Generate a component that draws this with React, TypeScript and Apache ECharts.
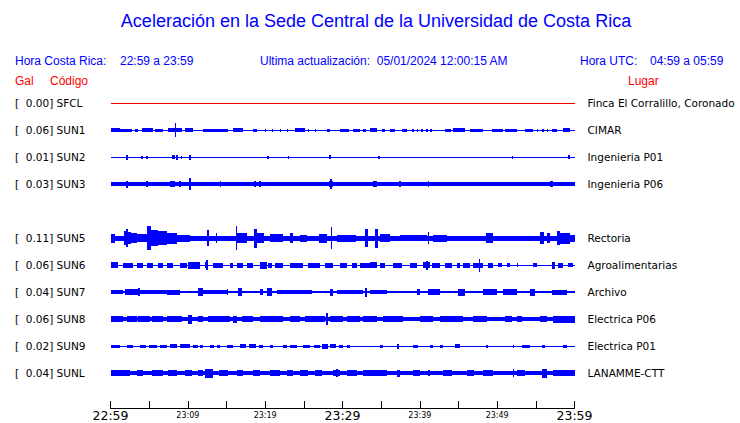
import React, { useEffect, useRef } from "react";
import * as echarts from "echarts";

// ---- data ----
const CODES = ["SFCL", "SUN1", "SUN2", "SUN3", "SUN5", "SUN6", "SUN7", "SUN8", "SUN9", "SUNL"];
const GAL = ["0.00", "0.06", "0.01", "0.03", "0.11", "0.06", "0.04", "0.06", "0.02", "0.04"];
const PLACES = [
  "Finca El Corralillo, Coronado", "CIMAR", "Ingenieria P01", "Ingenieria P06", "Rectoria",
  "Agroalimentarias", "Archivo", "Electrica P06", "Electrica P01", "LANAMME-CTT",
];
// row slot of each station (slot 4 is an empty row)
const ROW_SLOT = [0, 1, 2, 3, 5, 6, 7, 8, 9, 10];
const SLOT_COUNT = 11;

// time ticks: minutes after 22:59
const START_H = 22, START_M = 59;
const TIME_SPAN = 60;
const BIG_LABEL_MINUTES = [0, 30, 60];

// continuous background half-amplitude of each trace (relative units)
const BASE = [0, 0.5, 0.5, 2, 2.5, 0.5, 1.0, 2, 0.5, 2];

// bursts: [startMinute, endMinute, halfAmplitude]
const SFCL_B: number[][] = [];
const SUN1_B = [
  [0, 1.2, 1.7], [1.2, 2.8, 1.5], [3.2, 3.6, 1.5], [4.1, 5.5, 1.7], [5.8, 6.8, 1.5], [7.4, 9.2, 1.7],
  [8.3, 8.4, 6.7], [9.6, 10.7, 1.7], [12.0, 15.2, 1.5], [15.8, 17.1, 1.7], [18.4, 18.9, 1.5],
  [20.0, 20.1, 1.5], [20.9, 21.0, 1.5], [21.9, 22.0, 1.5], [22.8, 22.9, 1.5], [23.9, 25.2, 1.7],
  [25.5, 25.6, 1.5], [26.4, 26.5, 1.5], [28.0, 28.4, 1.5], [29.7, 30.8, 1.5], [31.3, 32.3, 1.5],
  [32.6, 33.0, 1.5], [33.6, 34.5, 1.7], [35.1, 35.5, 1.5], [36.1, 36.8, 1.5], [37.7, 38.3, 1.5],
  [39.0, 39.2, 1.5], [39.6, 39.8, 1.5], [40.2, 40.4, 1.5], [40.8, 41.0, 1.5], [41.3, 41.6, 1.5],
  [43.3, 44.0, 1.5], [44.3, 45.8, 1.7], [46.5, 48.2, 1.5], [49.3, 50.8, 1.5], [51.0, 52.6, 1.5],
  [53.6, 54.6, 1.5], [55.1, 55.3, 1.5], [55.8, 56.0, 1.5], [56.4, 56.6, 1.5], [57.1, 57.7, 1.5],
  [58.5, 59.4, 2],
];
const SUN2_B = [
  [2.0, 2.2, 2.5], [4.0, 4.2, 1.5], [4.6, 4.8, 1.5], [7.9, 8.3, 2], [8.5, 8.7, 2.5], [9.1, 9.3, 1.5],
  [10.2, 10.4, 2.5], [20.3, 20.5, 1.5], [22.9, 23.1, 1.5], [28.3, 28.5, 2], [34.6, 34.8, 1.5],
  [51.9, 52.1, 1.5], [59.2, 59.4, 2],
];
const SUN3_B = [
  [2.0, 2.2, 3.5], [4.6, 4.8, 3], [7.7, 8.3, 3], [8.9, 9.1, 3], [10.2, 10.4, 6], [14.1, 14.3, 2.8],
  [18.6, 18.8, 2.8], [19.2, 19.4, 2.8], [28.3, 28.8, 3], [28.4, 28.6, 5], [33.9, 34.5, 2.6],
  [37.3, 37.5, 2.6], [41.0, 41.2, 2.6], [56.8, 57.2, 2.6],
];
const SUN5_B = [
  [0, 0.6, 4.5], [1.7, 2.0, 7], [2.0, 2.3, 9], [2.3, 2.7, 6], [2.7, 3.4, 5], [3.4, 4.7, 4],
  [4.7, 5.3, 12], [5.3, 6.2, 8], [6.2, 7.3, 7], [7.3, 8.6, 5.5], [8.6, 10.3, 3.5], [12.5, 12.7, 8],
  [13.6, 13.8, 5], [16.2, 16.4, 11.7], [16.4, 17.6, 5], [18.5, 18.9, 9.5], [18.9, 19.8, 5],
  [20.6, 22.3, 4], [23.2, 23.6, 5], [24.5, 25.4, 3.5], [26.9, 28.0, 4.5], [28.5, 28.7, 11],
  [29.3, 31.8, 3.5], [32.9, 33.3, 9], [34.2, 34.6, 9.5], [34.9, 36.1, 4], [37.4, 40.9, 3],
  [41.0, 41.2, 6], [41.7, 43.5, 3.5], [48.6, 49.5, 5], [55.5, 56.0, 6], [56.4, 56.8, 5],
  [57.7, 58.1, 7], [58.1, 59.4, 5.5], [59.4, 60, 3.5],
];
const SUN6_B = [
  [0, 1.0, 3], [1.6, 2.9, 2.5], [3.4, 4.2, 2.5], [4.7, 5.5, 2.5], [6.1, 6.8, 2.5], [7.3, 8.1, 2.5],
  [9.0, 9.9, 2.5], [10.0, 11.6, 3.5], [12.2, 12.6, 3], [12.4, 12.6, 5], [13.3, 14.5, 2.5],
  [15.5, 15.8, 2.5], [16.4, 17.1, 2.5], [17.7, 18.4, 2.5], [19.3, 20.2, 3.5], [20.4, 20.9, 2.5],
  [21.3, 22.3, 2.5], [23.2, 24.9, 2.5], [25.5, 27.1, 2.5], [27.7, 28.8, 2.5], [29.7, 30.6, 2.5],
  [31.2, 31.9, 2.5], [32.3, 33.6, 2.5], [33.6, 34.5, 3], [34.9, 35.5, 2.5], [36.5, 37.7, 2.5],
  [38.7, 39.6, 2.5], [40.4, 41.3, 3], [40.8, 41.0, 4.5], [41.6, 42.6, 2.5], [43.3, 44.2, 2.5],
  [44.8, 45.2, 2.5], [45.6, 46.5, 2.5], [46.9, 48.2, 2.5], [47.6, 47.8, 6.5], [48.8, 49.5, 2.5],
  [50.1, 50.6, 2], [51.3, 51.6, 2], [52.5, 52.7, 2], [54.6, 55.1, 2], [57.1, 57.5, 3.5],
  [57.9, 58.5, 2.5], [59.2, 59.8, 2],
];
const SUN7_B = [
  [0, 1.6, 2.2], [1.9, 3.6, 2.7], [3.6, 3.8, 4], [3.8, 7.3, 2.2], [7.3, 9.0, 2.5], [11.3, 11.9, 4],
  [12.0, 15.1, 2.3], [15.1, 15.2, 3], [16.5, 17.0, 4], [19.3, 19.7, 3], [20.2, 20.9, 4],
  [21.5, 26.1, 2.3], [28.4, 28.8, 3.5], [29.3, 32.6, 2.3], [32.9, 33.2, 4.5], [33.6, 35.8, 2.3],
  [39.6, 40.0, 3], [41.1, 42.6, 3], [44.9, 45.8, 3.5], [48.2, 50.0, 3], [50.8, 52.6, 3],
  [54.2, 54.9, 3.5], [57.1, 59.0, 2.5],
];
const SUN8_B = [
  [0, 1.6, 3], [2.1, 3.4, 3], [3.6, 5.1, 3], [5.4, 6.8, 3], [7.3, 9.2, 3], [10.0, 10.5, 4.5],
  [11.3, 12.0, 3], [12.6, 15.5, 3], [15.8, 16.4, 3.5], [17.0, 18.4, 3], [19.3, 22.3, 3],
  [23.2, 24.5, 3], [25.2, 27.7, 3], [27.9, 28.1, 6], [28.4, 30.1, 3], [30.6, 32.3, 3],
  [32.6, 33.6, 3], [33.6, 34.5, 3], [35.2, 37.8, 3], [40.0, 41.7, 3], [42.6, 45.6, 3],
  [46.9, 48.7, 3], [51.0, 51.9, 3], [52.6, 53.2, 3], [55.5, 56.4, 3], [57.2, 60, 3.5],
];
const SUN9_B = [
  [0, 1.2, 1.5], [2.1, 2.9, 1.5], [3.8, 4.6, 1.5], [5.0, 6.0, 1.5], [6.4, 7.3, 1.5], [7.7, 8.6, 1.6],
  [9.0, 10.3, 1.6], [10.7, 11.3, 1.5], [11.6, 12.0, 1.5], [12.9, 13.4, 1.5], [13.8, 14.2, 1.5],
  [15.1, 15.8, 1.5], [16.7, 17.5, 1.6], [17.9, 18.8, 1.6], [19.2, 19.7, 1.5], [20.6, 21.0, 1.5],
  [22.3, 22.8, 1.5], [23.2, 24.1, 1.5], [24.9, 25.8, 1.5], [26.3, 27.1, 1.5], [27.3, 28.1, 2.5],
  [28.4, 29.2, 1.6], [29.6, 30.1, 1.5], [30.6, 31.0, 1.5], [34.9, 35.2, 1.5], [37.1, 37.3, 2.5],
  [39.1, 39.8, 1.5], [41.3, 41.7, 1.5], [42.6, 43.0, 1.5], [44.5, 45.2, 2], [48.6, 48.8, 1.5],
  [52.0, 52.2, 1.5], [53.2, 54.2, 1.5], [55.8, 56.2, 1.5], [58.5, 59.0, 1.5],
];
const SUNL_B = [
  [0, 2.5, 3], [3.4, 4.2, 3], [5.4, 6.8, 3], [7.4, 8.6, 3], [9.6, 10.5, 3], [11.3, 12.0, 3],
  [12.2, 13.3, 4.5], [14.0, 15.2, 3], [16.4, 17.1, 3], [18.4, 19.3, 3], [20.6, 21.9, 3],
  [22.8, 23.6, 3], [24.5, 25.5, 3], [26.4, 27.3, 3], [28.8, 29.7, 3], [29.2, 29.4, 4.2],
  [30.6, 31.9, 3], [32.6, 33.6, 3], [33.6, 35.8, 3], [37.0, 37.4, 3.5], [39.1, 40.0, 3],
  [41.0, 41.3, 3], [43.0, 44.2, 3], [46.1, 47.0, 3], [48.2, 49.5, 3], [52.0, 52.2, 4],
  [52.6, 53.6, 3], [55.8, 56.4, 4.5], [57.2, 60, 3],
];
const BURSTS = [SFCL_B, SUN1_B, SUN2_B, SUN3_B, SUN5_B, SUN6_B, SUN7_B, SUN8_B, SUN9_B, SUNL_B];

// ---- styles ----
const BLUE = "#0000ff";
const RED = "#ff0000";
const TRACE_COLORS = ["#ee0000", BLUE, BLUE, BLUE, BLUE, BLUE, BLUE, BLUE, BLUE, BLUE];
const LABEL_FONT = "DejaVu Sans";
const HEAD_FONT = "Liberation Sans";

function timeLabel(min: number): string {
  const t = START_H * 60 + START_M + min;
  const h = Math.floor(t / 60) % 24;
  const m = t % 60;
  return `${String(h).padStart(2, "0")}:${String(m).padStart(2, "0")}`;
}

export default function App() {
  const ref = useRef<HTMLDivElement>(null);
  useEffect(() => {
    if (!ref.current) return;
    const chart = echarts.init(ref.current, undefined, { renderer: "svg" });

    const slots: string[] = new Array(SLOT_COUNT).fill("");
    const leftLabels: string[] = new Array(SLOT_COUNT).fill("");
    const rightLabels: string[] = new Array(SLOT_COUNT).fill("");
    CODES.forEach((c, i) => {
      slots[ROW_SLOT[i]] = c;
      leftLabels[ROW_SLOT[i]] = `[\u00a0\u00a0${GAL[i]}] ${c}`;
      rightLabels[ROW_SLOT[i]] = PLACES[i];
    });

    const series: any[] = CODES.map((code, i) => {
      const data: number[][] = [[0, TIME_SPAN, ROW_SLOT[i], BASE[i]]];
      BURSTS[i].forEach((b) => data.push([b[0], b[1], ROW_SLOT[i], b[2]]));
      const color = TRACE_COLORS[i];
      return {
        type: "custom",
        name: code,
        xAxisIndex: 0,
        yAxisIndex: 0,
        clip: false,
        encode: { x: [0, 1], y: 2 },
        data,
        renderItem: (_p: any, api: any) => {
          const s = api.value(0), e = api.value(1), row = api.value(2), amp = api.value(3);
          const p0 = api.coord([s, row]);
          const p1 = api.coord([e, row]);
          const x0 = Math.round(p0[0]);
          const x1 = Math.max(x0 + 1, Math.round(p1[0]));
          const y0 = Math.round(p0[1] - amp);
          const y1 = Math.max(y0 + 1, Math.round(p0[1] + amp));
          return {
            type: "rect",
            shape: { x: x0, y: y0, width: x1 - x0, height: y1 - y0 },
            style: { fill: color },
          };
        },
      };
    });

    const plotLeft = 110.5, plotRight = 740 - 574.5;
    const labelSize = 10.5;

    chart.setOption({
      animation: false,
      backgroundColor: "#ffffff",
      grid: [
        { left: plotLeft, right: plotRight, top: 89.5, height: 27 * SLOT_COUNT },
        { left: plotLeft, right: plotRight, top: 380, height: 28 },
      ],
      xAxis: [
        { gridIndex: 0, type: "value", min: 0, max: TIME_SPAN, show: false },
        {
          gridIndex: 1, type: "value", min: 0, max: TIME_SPAN, interval: 5,
          axisLine: { show: true, lineStyle: { color: "#000", width: 1 } },
          axisTick: { show: true, inside: true, length: 7, lineStyle: { color: "#000", width: 1 } },
          splitLine: { show: false },
          axisLabel: {
            margin: 7,
            verticalAlign: "middle",
            showMinLabel: true,
            showMaxLabel: true,
            formatter: (v: number) => {
              if (v % 10 !== 0) return "";
              const key = BIG_LABEL_MINUTES.includes(v) ? "b" : "s";
              return `{${key}|${timeLabel(v)}}`;
            },
            rich: {
              b: { fontSize: 12.5, fontFamily: LABEL_FONT, color: "#000" },
              s: { fontSize: 8, fontFamily: LABEL_FONT, color: "#000" },
            },
          },
        },
      ],
      yAxis: [
        {
          gridIndex: 0, type: "category", data: slots, inverse: true, position: "left",
          axisLine: { show: false }, axisTick: { show: false }, splitLine: { show: false },
          axisLabel: {
            align: "left", margin: plotLeft - 15, fontSize: labelSize, fontFamily: LABEL_FONT, color: "#000",
            formatter: (_v: string, idx: number) => leftLabels[idx],
          },
        },
        {
          gridIndex: 0, type: "category", data: slots, inverse: true, position: "right",
          axisLine: { show: false }, axisTick: { show: false }, splitLine: { show: false },
          axisLabel: {
            align: "left", margin: 13, fontSize: labelSize, fontFamily: LABEL_FONT, color: "#000",
            formatter: (_v: string, idx: number) => rightLabels[idx],
          },
        },
        { gridIndex: 1, type: "value", show: false },
      ],
      graphic: [
        {
          type: "text", x: 376, y: 21,
          style: {
            text: "Aceleración en la Sede Central de la Universidad de Costa Rica",
            fill: BLUE, font: `18px "${HEAD_FONT}"`, textAlign: "center", textVerticalAlign: "middle",
          },
        },
        { type: "text", x: 15, y: 61, style: { text: "Hora Costa Rica:", fill: BLUE, font: `12px "${HEAD_FONT}"`, textVerticalAlign: "middle" } },
        { type: "text", x: 120, y: 61, style: { text: `${timeLabel(0)} a ${timeLabel(TIME_SPAN)}`, fill: BLUE, font: `12px "${HEAD_FONT}"`, textVerticalAlign: "middle" } },
        { type: "text", x: 260, y: 61, style: { text: "Ultima actualización:  05/01/2024 12:00:15 AM", fill: BLUE, font: `12px "${HEAD_FONT}"`, textVerticalAlign: "middle" } },
        { type: "text", x: 580, y: 61, style: { text: "Hora UTC:", fill: BLUE, font: `12px "${HEAD_FONT}"`, textVerticalAlign: "middle" } },
        { type: "text", x: 650, y: 61, style: { text: "04:59 a 05:59", fill: BLUE, font: `12px "${HEAD_FONT}"`, textVerticalAlign: "middle" } },
        { type: "text", x: 15, y: 81, style: { text: "Gal", fill: RED, font: `12px "${HEAD_FONT}"`, textVerticalAlign: "middle" } },
        { type: "text", x: 50, y: 81, style: { text: "Código", fill: RED, font: `12px "${HEAD_FONT}"`, textVerticalAlign: "middle" } },
        { type: "text", x: 628, y: 81, style: { text: "Lugar", fill: RED, font: `12px "${HEAD_FONT}"`, textVerticalAlign: "middle" } },
      ],
      series,
    });
    return () => chart.dispose();
  }, []);
  return <div ref={ref} style={{ width: 740, height: 423, position: "absolute", left: 0, top: 0 }} />;
}
